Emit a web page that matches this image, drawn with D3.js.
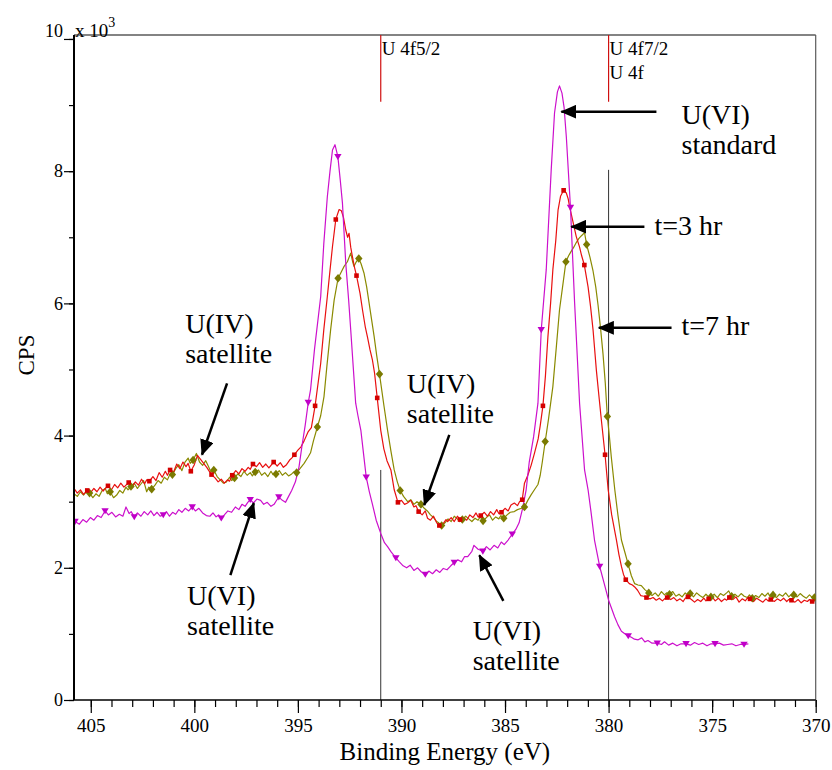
<!DOCTYPE html>
<html>
<head>
<meta charset="utf-8">
<script src="https://cdn.jsdelivr.net/npm/d3@7"></script>
<style>
  body { margin: 0; background: #fff; }
  svg { display: block; }
  svg text { fill: #000; }
</style>
</head>
<body>
<svg id="chart" width="832" height="770"></svg>
<script>
// ---- U 4f XPS spectra: binding energy (eV) vs. counts per second (x 10^3) ----
const FONT = "'Liberation Serif', 'Times New Roman', Tinos, Times, 'Nimbus Roman', 'Nimbus Roman No9 L', FreeSerif, 'Noto Serif', 'DejaVu Serif', serif";

const energyTicks = [405, 400, 395, 390, 385, 380, 375, 370];
const energyMinorTicks = d3.range(405, 369, -1);
const cpsTicks = [0, 2, 4, 6, 8, 10];
const cpsMinorTicks = d3.range(0, 11, 1);

// U(VI) standard: line samples and triangle-marked samples [eV, kCPS]
const stdLine = [
  [405.81,2.66],[405.55,2.66],[405.38,2.73],[405.2,2.69],[405.02,2.76],[404.85,2.72],[404.68,2.79],[404.5,2.76],
  [404.15,2.80],[403.98,2.84],[403.8,2.77],[403.62,2.81],[403.45,2.78],[403.3,2.92],[403.15,2.82],[403.05,2.85],
  [402.75,2.83],[402.58,2.78],[402.42,2.85],[402.25,2.80],[402.1,2.86],[401.95,2.79],[401.8,2.84],[401.65,2.78],
  [401.35,2.85],[401.2,2.78],[401.05,2.84],[400.9,2.81],[400.75,2.88],[400.6,2.84],[400.44,2.90],[400.27,2.86],
  [399.95,2.86],[399.78,2.90],[399.6,2.83],[399.42,2.79],[399.25,2.78],[399.1,2.83],[398.95,2.77],[398.83,2.80],
  [398.55,2.80],[398.38,2.86],[398.2,2.84],[398.02,2.92],[397.85,2.88],[397.7,2.96],[397.55,2.93],[397.42,2.99],
  [397.15,2.98],[396.98,3.04],[396.8,3.02],[396.65,2.96],[396.48,2.99],[396.3,2.93],[396.15,2.96],[396.05,3.01],
  [395.75,3.02],[395.6,2.99],[395.45,3.08],[395.3,3.17],[395.12,3.30],[394.95,3.52],[394.8,3.85],[394.65,4.15],
  [394.39,4.69],[394.2,5.30],[393.9,6.10],[393.75,6.90],[393.58,7.61],[393.45,8.00],[393.33,8.32],[393.21,8.40],
  [392.95,7.85],[392.85,7.52],[392.69,6.61],[392.55,6.05],[392.45,5.60],[392.32,5.00],[392.21,4.49],[392.1,4.30],
  [391.96,4.08],[391.84,3.75],
  [391.55,3.15],[391.4,2.96],[391.22,2.72],[391.0,2.52],[390.82,2.38],[390.67,2.32],[390.5,2.24],
  [390.1,2.09],[389.92,2.03],[389.75,2.00],[389.58,2.04],[389.4,1.96],[389.22,2.00],[389.05,1.94],
  [388.68,1.95],[388.5,1.91],[388.32,1.97],[388.15,1.93],[387.98,1.99],[387.8,1.97],[387.62,2.03],
  [387.28,2.12],[387.1,2.09],[386.95,2.17],[386.8,2.17],[386.6,2.25],[386.5,2.34],[386.3,2.28],
  [385.9,2.32],[385.72,2.27],[385.53,2.34],[385.35,2.30],[385.18,2.39],[385.04,2.35],[384.85,2.42],
  [384.48,2.58],[384.32,2.68],[384.15,2.90],[383.98,3.18],[383.83,3.60],[383.62,3.98],[383.41,4.49],
  [383.01,6.51],[382.77,8.02],[382.61,8.88],[382.47,9.20],[382.37,9.29],[382.25,9.18],[382.15,8.97],[382.04,8.52],
  [381.64,6.01],[381.40,4.49],[381.16,3.48],[380.99,3.18],[380.85,2.85],[380.68,2.42],
  [380.2,1.75],[380.0,1.51],[379.85,1.38],[379.71,1.26],[379.55,1.14],[379.38,1.04],[379.2,1.00],
  [378.9,0.95],[378.75,0.92],[378.57,0.91],[378.4,0.94],[378.25,0.88],[378.1,0.90],[377.9,0.86],
  [377.45,0.84],[377.3,0.88],[377.1,0.83],[376.9,0.86],[376.7,0.82],[376.5,0.85],
  [376.05,0.83],[375.85,0.87],[375.65,0.84],[375.45,0.86],[375.25,0.82],[375.05,0.85],
  [374.65,0.86],[374.45,0.83],[374.25,0.84],[374.05,0.85],[373.85,0.82],[373.65,0.84],
  [373.25,0.85]
];
const stdMarks = [
  [405.76,2.70],[404.31,2.86],[402.90,2.77],[401.50,2.80],[400.10,2.92],[398.70,2.75],[397.30,3.03],[395.92,3.07],
  [394.50,4.50],[393.07,8.22],[391.70,3.37],[390.27,2.15],[388.85,1.90],[387.45,2.08],[386.07,2.25],[384.65,2.51],
  [383.25,5.60],[381.84,7.45],[380.43,2.02],[379.05,0.97],[377.65,0.86],[376.26,0.85],[374.86,0.85],[373.46,0.84]
];

// t = 3 hr: line samples and square-marked samples
const t3Line = [
  [405.81,3.20],[405.65,3.13],[405.5,3.18],[405.35,3.11],
  [405.0,3.14],[404.85,3.20],[404.7,3.15],[404.55,3.22],[404.4,3.16],[404.3,3.20],
  [404.0,3.18],[403.85,3.26],[403.7,3.21],[403.55,3.28],[403.4,3.22],[403.3,3.25],
  [403.0,3.22],[402.85,3.30],[402.7,3.25],[402.55,3.34],[402.4,3.27],[402.3,3.33],
  [402.0,3.38],[401.85,3.32],[401.7,3.44],[401.55,3.37],[401.4,3.46],[401.3,3.40],
  [401.0,3.45],[400.85,3.57],[400.7,3.50],[400.55,3.60],[400.4,3.53],[400.3,3.58],
  [400.0,3.56],[399.85,3.70],[399.7,3.64],[399.55,3.58],[399.4,3.52],[399.3,3.47],
  [399.0,3.36],[398.85,3.30],[398.7,3.34],[398.55,3.28],[398.4,3.33],[398.3,3.31],
  [398.0,3.47],[397.85,3.42],[397.7,3.50],[397.55,3.46],[397.4,3.52],[397.3,3.49],
  [397.0,3.53],[396.85,3.59],[396.7,3.52],[396.55,3.57],[396.4,3.51],[396.3,3.55],
  [396.0,3.54],[395.85,3.59],[395.7,3.52],[395.55,3.56],[395.4,3.63],[395.3,3.66],
  [395.0,3.78],[394.85,3.83],[394.7,3.92],[394.5,4.06],[394.35,4.12],
  [393.9,5.09],[393.75,5.60],[393.58,6.10],[393.45,6.50],[393.33,6.86],
  [393.01,7.42],[392.9,7.40],[392.8,7.30],[392.69,7.11],[392.6,7.00],[392.53,7.06],[392.45,6.85],[392.37,6.71],[392.27,6.55],
  [392.0,6.15],[391.88,5.90],[391.75,5.65],[391.64,5.49],[391.52,5.30],[391.40,5.14],[391.3,4.95],
  [391.0,4.08],[390.85,3.80],[390.7,3.62],[390.51,3.48],[390.35,3.18],
  [390.0,3.02],[389.85,2.96],[389.71,2.98],[389.55,3.02],[389.4,2.92],[389.3,2.94],
  [389.0,2.80],[388.85,2.86],[388.74,2.75],[388.6,2.72],[388.45,2.78],[388.3,2.68],
  [388.0,2.66],[387.85,2.73],[387.77,2.70],[387.6,2.76],[387.45,2.70],[387.3,2.78],
  [387.0,2.76],[386.85,2.72],[386.7,2.80],[386.55,2.76],[386.4,2.83],[386.3,2.77],
  [386.0,2.84],[385.85,2.78],[385.7,2.85],[385.55,2.80],[385.4,2.88],[385.3,2.82],
  [385.0,2.90],[384.85,2.86],[384.71,2.95],[384.55,2.98],[384.4,2.94],[384.3,3.00],
  [384.06,3.28],[383.9,3.40],[383.74,3.55],[383.58,3.73],[383.4,3.95],[383.3,4.15],
  [383.05,4.90],[382.93,5.49],[382.8,6.00],[382.69,6.51],[382.55,6.95],[382.44,7.41],[382.32,7.62],
  [382.04,7.67],[381.95,7.58],[381.88,7.46],[381.75,7.28],[381.56,7.01],[381.4,6.85],[381.3,6.72],
  [380.99,6.25],[380.87,5.95],[380.75,5.60],[380.59,4.99],[380.45,4.55],[380.35,4.24],
  [380.02,3.18],[379.85,2.80],[379.62,2.42],[379.5,2.20],[379.38,2.02],[379.28,1.90],
  [379.0,1.76],[378.85,1.74],[378.74,1.71],[378.6,1.66],[378.45,1.58],[378.3,1.57],
  [378.0,1.53],[377.85,1.55],[377.7,1.51],[377.55,1.54],[377.4,1.50],[377.3,1.53],
  [377.0,1.52],[376.85,1.55],[376.7,1.50],[376.55,1.53],[376.4,1.49],[376.3,1.54],
  [376.0,1.52],[375.85,1.48],[375.7,1.52],[375.55,1.49],[375.4,1.54],[375.3,1.50],
  [375.0,1.56],[374.85,1.50],[374.7,1.54],[374.55,1.49],[374.4,1.53],[374.3,1.51],
  [374.0,1.52],[373.85,1.56],[373.7,1.48],[373.55,1.53],[373.4,1.50],[373.3,1.54],
  [373.0,1.49],[372.85,1.54],[372.7,1.51],[372.55,1.48],[372.4,1.53],[372.3,1.50],
  [372.0,1.49],[371.85,1.53],[371.7,1.50],[371.55,1.54],[371.4,1.49],[371.3,1.52],
  [371.0,1.48],[370.85,1.52],[370.7,1.47],[370.55,1.51],[370.4,1.49],[370.3,1.52],
  [370.0,1.52]
];
const t3Marks = [
  [405.17,3.17],[404.17,3.24],[403.17,3.29],[402.17,3.31],[401.17,3.48],[400.17,3.46],[399.17,3.41],[398.17,3.40],
  [397.17,3.57],[396.17,3.60],[395.17,3.71],[394.17,4.45],[393.17,7.27],[392.17,6.42],[391.17,4.57],[390.17,2.99],
  [389.17,2.85],[388.17,2.64],[387.17,2.73],[386.17,2.79],[385.17,2.84],[384.17,3.03],[383.17,4.45],[382.17,7.71],
  [381.17,6.58],[380.17,3.71],[379.17,1.82],[378.17,1.55],[377.17,1.55],[376.17,1.56],[375.17,1.53],[374.17,1.55],
  [373.17,1.53],[372.17,1.52],[371.17,1.51],[370.17,1.49]
];

// t = 7 hr: line samples and diamond-marked samples
const t7Line = [
  [405.81,3.12],[405.65,3.08],[405.5,3.15],[405.35,3.10],[405.2,3.16],
  [404.9,3.06],[404.75,3.12],[404.6,3.08],[404.45,3.17],[404.3,3.20],[404.2,3.12],
  [403.9,3.06],[403.75,3.10],[403.6,3.17],[403.45,3.13],[403.3,3.22],[403.2,3.18],
  [402.9,3.28],[402.75,3.20],[402.6,3.26],[402.45,3.32],[402.3,3.15],[402.2,3.22],
  [401.9,3.25],[401.75,3.32],[401.6,3.28],[401.45,3.37],[401.3,3.33],[401.2,3.40],
  [400.9,3.50],[400.75,3.56],[400.6,3.47],[400.45,3.60],[400.3,3.66],[400.2,3.58],
  [399.9,3.73],[399.75,3.60],[399.6,3.55],[399.45,3.62],[399.3,3.52],[399.2,3.45],
  [398.9,3.38],[398.75,3.33],[398.6,3.28],[398.45,3.30],[398.3,3.37],[398.2,3.32],
  [397.9,3.42],[397.75,3.38],[397.6,3.46],[397.45,3.40],[397.3,3.44],[397.2,3.39],
  [396.9,3.48],[396.75,3.40],[396.6,3.44],[396.45,3.38],[396.3,3.46],[396.2,3.41],
  [395.9,3.47],[395.75,3.40],[395.6,3.44],[395.45,3.39],[395.3,3.42],[395.2,3.45],
  [394.9,3.50],[394.7,3.58],[394.5,3.68],[394.39,3.74],[394.25,3.92],
  [393.9,4.30],[393.74,4.59],[393.6,5.05],[393.42,5.60],[393.25,6.05],
  [392.9,6.48],[392.77,6.56],[392.61,6.63],[392.45,6.76],[392.35,6.62],[392.29,6.56],[392.2,6.62],
  [391.95,6.60],[391.81,6.46],[391.68,6.25],[391.56,6.00],[391.44,5.75],[391.32,5.50],[391.2,5.22],
  [390.84,4.44],[390.67,4.08],[390.5,3.75],[390.35,3.48],[390.2,3.30],
  [389.9,3.08],[389.7,3.00],[389.55,3.03],[389.4,2.96],[389.25,3.00],
  [388.9,2.90],[388.75,2.86],[388.6,2.80],[388.45,2.76],[388.3,2.70],[388.2,2.68],
  [387.9,2.68],[387.75,2.74],[387.6,2.70],[387.45,2.78],[387.3,2.74],[387.2,2.70],
  [386.9,2.78],[386.75,2.74],[386.6,2.70],[386.45,2.75],[386.3,2.72],[386.2,2.77],
  [385.9,2.76],[385.75,2.80],[385.6,2.72],[385.45,2.77],[385.3,2.74],[385.2,2.79],
  [384.9,2.80],[384.75,2.84],[384.55,2.85],[384.4,2.88],[384.2,2.90],
  [383.9,3.02],[383.75,3.10],[383.58,3.18],[383.41,3.26],[383.3,3.40],[383.2,3.60],
  [382.9,4.25],[382.69,4.74],[382.52,5.35],[382.37,5.90],[382.2,6.30],
  [381.93,6.72],[381.80,6.79],[381.68,6.85],[381.56,6.92],[381.44,6.98],[381.32,7.02],[381.16,7.07],
  [380.9,6.70],[380.75,6.49],[380.62,6.25],[380.51,5.98],[380.38,5.60],[380.27,5.24],[380.16,4.80],
  [379.95,3.95],[379.87,3.68],[379.70,3.18],[379.55,2.80],[379.38,2.42],[379.2,2.22],
  [378.9,1.88],[378.74,1.76],[378.58,1.74],[378.42,1.73],[378.25,1.67],
  [377.9,1.58],[377.75,1.62],[377.6,1.57],[377.45,1.64],[377.3,1.59],[377.2,1.62],
  [376.9,1.64],[376.75,1.57],[376.6,1.60],[376.45,1.56],[376.3,1.62],[376.2,1.59],
  [375.9,1.56],[375.75,1.62],[375.6,1.58],[375.45,1.55],[375.3,1.60],[375.2,1.57],
  [374.9,1.60],[374.75,1.55],[374.6,1.61],[374.45,1.58],[374.3,1.62],[374.2,1.65],
  [373.9,1.60],[373.75,1.56],[373.6,1.61],[373.45,1.57],[373.3,1.55],[373.2,1.59],
  [372.9,1.58],[372.75,1.55],[372.6,1.61],[372.45,1.57],[372.3,1.62],[372.2,1.56],
  [371.9,1.55],[371.75,1.60],[371.6,1.57],[371.45,1.62],[371.3,1.56],[371.2,1.59],
  [370.9,1.56],[370.75,1.61],[370.6,1.57],[370.45,1.54],[370.3,1.59],[370.2,1.56],
  [370.0,1.57]
];
const t7Marks = [
  [405.06,3.13],[404.06,3.15],[403.06,3.23],[402.06,3.19],[401.06,3.41],[400.06,3.63],[399.06,3.48],[398.06,3.36],
  [397.06,3.45],[396.06,3.42],[395.06,3.44],[394.06,4.13],[393.06,6.38],[392.06,6.68],[391.06,4.93],[390.06,3.17],
  [389.06,2.96],[388.06,2.64],[387.06,2.73],[386.06,2.71],[385.06,2.75],[384.06,2.92],[383.06,3.91],[382.06,6.63],
  [381.06,6.89],[380.06,4.29],[379.06,2.06],[378.06,1.62],[377.06,1.60],[376.06,1.61],[375.06,1.56],[374.06,1.57],
  [373.06,1.54],[372.06,1.59],[371.06,1.59],[370.06,1.55]
];

// Peak positions (eV) with their labels, and how far the guide line under each rises (kCPS)
const peakEnergies = [391, 380];
const peakLabels = [["U 4f5/2"], ["U 4f7/2", "U 4f"]];
const peakGuideTops = [3.48, 8.02];

// Callouts: text anchor, arrow tail and arrow tip in data units [eV, kCPS]
const noteLines = [
  ["U(VI)", "standard"], ["t=3 hr"], ["t=7 hr"],
  ["U(IV)", "satellite"], ["U(VI)", "satellite"], ["U(IV)", "satellite"], ["U(VI)", "satellite"]
];
const noteAnchors = [[376.48,8.72],[377.78,7.03],[376.48,5.52],[400.44,5.55],[400.35,1.44],[389.74,4.64],[386.56,0.91]];
const arrowTails  = [[377.69,8.90],[378.27,7.16],[376.96,5.63],[398.42,4.79],[398.26,1.89],[387.69,4.01],[385.08,1.50]];
const arrowTips   = [[382.28,8.90],[381.80,7.16],[380.47,5.63],[399.63,3.71],[397.13,2.98],[388.90,2.95],[386.24,2.19]];

// ---- layout ----
const svg = d3.select("#chart");
const X0 = 74, X1 = 815.7, Y0 = 700, Y1 = 35;
const x = d3.scaleLinear().domain([405.81, 370]).range([X0, X1]);
const y = d3.scaleLinear().domain([0, 10.06]).range([Y0, Y1]);

const defs = svg.append("defs");
defs.append("clipPath").attr("id", "plotClip")
  .append("rect").attr("x", X0).attr("y", Y1).attr("width", X1 - X0).attr("height", Y0 - Y1);
defs.append("marker").attr("id", "arrowHead")
  .attr("markerUnits", "userSpaceOnUse")
  .attr("viewBox", "0 0 16 14").attr("markerWidth", 16).attr("markerHeight", 14)
  .attr("refX", 15).attr("refY", 7).attr("orient", "auto")
  .append("path").attr("d", "M0,0L16,7L0,14Z").attr("fill", "#000");

// frame: top and right in grey, axes in black
svg.append("line").attr("x1", X0).attr("x2", X1).attr("y1", Y1).attr("y2", Y1)
  .attr("stroke", "#5a5a5a").attr("stroke-width", 1.5);
svg.append("line").attr("x1", X1).attr("x2", X1).attr("y1", Y1).attr("y2", Y0)
  .attr("stroke", "#5a5a5a").attr("stroke-width", 1.2);

// peak position guides
peakEnergies.forEach((e, i) => {
  svg.append("line").attr("x1", x(e)).attr("x2", x(e)).attr("y1", y(10.06)).attr("y2", y(9.05))
    .attr("stroke", "#d01010").attr("stroke-width", 1.2);
  svg.append("line").attr("x1", x(e)).attr("x2", x(e)).attr("y1", y(peakGuideTops[i])).attr("y2", y(0))
    .attr("stroke", "#333").attr("stroke-width", 1);
  peakLabels[i].forEach((t, j) => {
    svg.append("text").attr("x", x(e) + 1).attr("y", 55 + j * 24)
      .attr("font-family", FONT).attr("font-size", 19).text(t);
  });
});

// spectra
const line = d3.line().x(d => x(d[0])).y(d => y(d[1]));
const plot = svg.append("g").attr("clip-path", "url(#plotClip)");
const series = [
  { line: t7Line, marks: t7Marks, stroke: "#8a8a00", fill: "#7a7a00", shape: "M0,-4.3L3.7,0L0,4.3L-3.7,0Z" },
  { line: t3Line, marks: t3Marks, stroke: "#e81010", fill: "#d40000", shape: "M-2.3,-2.3H2.3V2.3H-2.3Z" },
  { line: stdLine, marks: stdMarks, stroke: "#cc10cc", fill: "#c000c8", shape: "M-3.7,-2.7L3.7,-2.7L0,3.4Z" }
];
series.forEach(s => {
  const pts = s.line.concat(s.marks).sort((a, b) => b[0] - a[0]);
  plot.append("path").attr("d", line(pts))
    .attr("fill", "none").attr("stroke", s.stroke).attr("stroke-width", 1.2).attr("stroke-linejoin", "round");
});
series.forEach(s => {
  plot.append("g").selectAll("path").data(s.marks).join("path")
    .attr("transform", d => `translate(${x(d[0])},${y(d[1])})`)
    .attr("d", s.shape).attr("fill", s.fill);
});

// axes
const gxMinor = svg.append("g").attr("transform", `translate(0,${Y0})`)
  .call(d3.axisBottom(x).tickValues(energyMinorTicks).tickSize(7).tickFormat("").tickSizeOuter(0));
const gx = svg.append("g").attr("transform", `translate(0,${Y0})`)
  .call(d3.axisBottom(x).tickValues(energyTicks).tickSize(13).tickPadding(6).tickFormat(d3.format("d")).tickSizeOuter(0));
const gyMinor = svg.append("g").attr("transform", `translate(${X0},0)`)
  .call(d3.axisLeft(y).tickValues(cpsMinorTicks).tickSize(5).tickFormat("").tickSizeOuter(0));
const gy = svg.append("g").attr("transform", `translate(${X0},0)`)
  .call(d3.axisLeft(y).tickValues(cpsTicks).tickSize(10).tickPadding(1).tickFormat(d3.format("d")).tickSizeOuter(0));
[gxMinor, gx, gyMinor, gy].forEach(g => {
  g.attr("font-family", FONT);
  g.select(".domain").remove();
  g.selectAll(".tick line").attr("stroke", "#000").attr("stroke-width", 1.2);
});
gx.selectAll(".tick text").attr("font-size", 19).attr("fill", "#000");
gy.selectAll(".tick text").attr("font-size", 18).attr("fill", "#000");
// the top label shares its baseline with the multiplier beside it
gy.selectAll(".tick text").filter(d => d === 10).attr("dy", "0").attr("y", -2);

svg.append("line").attr("x1", X0).attr("x2", X1).attr("y1", Y0).attr("y2", Y0)
  .attr("stroke", "#000").attr("stroke-width", 1.5);
svg.append("line").attr("x1", X0).attr("x2", X0).attr("y1", Y1).attr("y2", Y0)
  .attr("stroke", "#000").attr("stroke-width", 2);

// axis titles and scale multiplier
svg.append("text").attr("x", (X0 + X1) / 2).attr("y", 760).attr("text-anchor", "middle")
  .attr("font-family", FONT).attr("font-size", 25).text("Binding Energy (eV)");
svg.append("text").attr("transform", "translate(34,355) rotate(-90)").attr("text-anchor", "middle")
  .attr("font-family", FONT).attr("font-size", 23).text("CPS");
const mult = svg.append("text").attr("x", 75).attr("y", 37).attr("font-family", FONT).attr("font-size", 19);
mult.append("tspan").text("x 10");
mult.append("tspan").attr("dy", -10).attr("font-size", 14).text("3");

// callouts
noteLines.forEach((lines, i) => {
  svg.append("line")
    .attr("x1", x(arrowTails[i][0])).attr("y1", y(arrowTails[i][1]))
    .attr("x2", x(arrowTips[i][0])).attr("y2", y(arrowTips[i][1]))
    .attr("stroke", "#000").attr("stroke-width", 2.5).attr("marker-end", "url(#arrowHead)");
  lines.forEach((t, j) => {
    svg.append("text").attr("x", x(noteAnchors[i][0])).attr("y", y(noteAnchors[i][1]) + j * 30)
      .attr("font-family", FONT).attr("font-size", 28).text(t);
  });
});
</script>
</body>
</html>
